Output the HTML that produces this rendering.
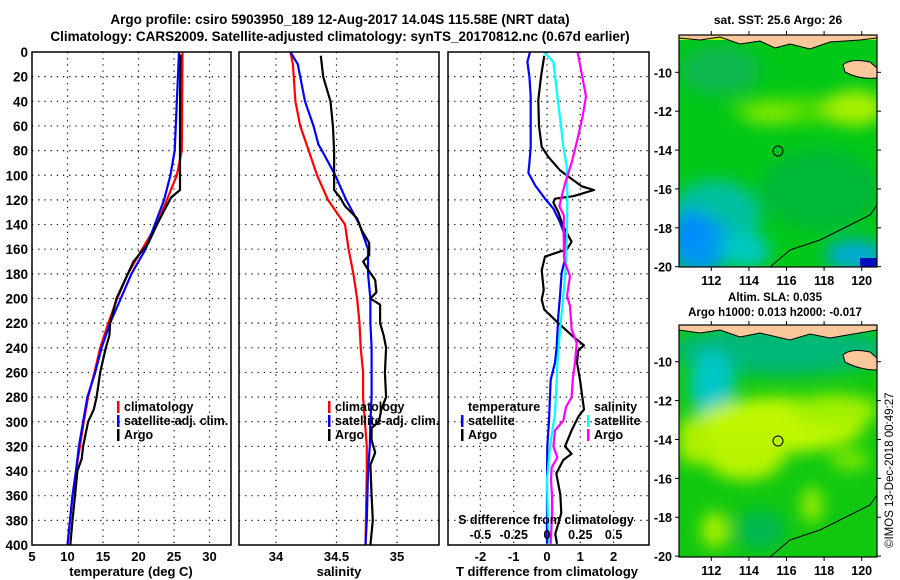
<!DOCTYPE html>
<html><head><meta charset="utf-8">
<style>
html,body{margin:0;padding:0;background:#fff;}
svg{display:block;font-family:"Liberation Sans",sans-serif;font-weight:bold;}
</style></head>
<body>
<svg id="chart" width="900" height="580" viewBox="0 0 900 580" xmlns="http://www.w3.org/2000/svg">
<defs>
<filter id="blur6" x="-50%" y="-50%" width="200%" height="200%"><feGaussianBlur stdDeviation="8"/></filter>
<clipPath id="clipMap1"><rect x="679" y="35" width="198" height="232"/></clipPath>
<clipPath id="clipMap2"><rect x="679" y="325" width="198" height="232"/></clipPath>
</defs>
<g font-size="13.5" text-anchor="middle">
<text x="340" y="24">Argo profile: csiro 5903950_189 12-Aug-2017 14.04S 115.58E (NRT data)</text>
<text x="340" y="41">Climatology: CARS2009. Satellite-adjusted climatology: synTS_20170812.nc (0.67d earlier)</text>
</g>
<g id="panels"></g>

<!-- Map 1: satellite SST -->
<g>
<text x="778" y="24" font-size="12" text-anchor="middle">sat. SST: 25.6 Argo: 26</text>
<g clip-path="url(#clipMap1)">
<rect x="679" y="35" width="198" height="232" fill="#00c818"/>
<g filter="url(#blur6)">
<ellipse cx="720" cy="70" rx="40" ry="25" fill="#10b850"/>
<ellipse cx="800" cy="110" rx="70" ry="14" fill="#50dc00"/>
<ellipse cx="855" cy="108" rx="30" ry="18" fill="#a8f000"/>
<ellipse cx="770" cy="115" rx="25" ry="10" fill="#80e800"/>
<ellipse cx="820" cy="190" rx="60" ry="40" fill="#00b838"/>
<ellipse cx="715" cy="215" rx="45" ry="35" fill="#00c0a0"/>
<ellipse cx="700" cy="245" rx="30" ry="30" fill="#0098f0"/>
<ellipse cx="745" cy="250" rx="25" ry="18" fill="#00c8c0"/>
<ellipse cx="855" cy="255" rx="30" ry="15" fill="#00a8d8"/>
<ellipse cx="690" cy="230" rx="14" ry="20" fill="#0088ff"/>
</g>
<rect x="679" y="35" width="198" height="5" fill="#c0f000"/>
<path d="M679,38 L700,40 L720,37 L740,44 L760,41 L775,48 L790,44 L810,49 L830,42 L860,40 L877,38 L877,35 L679,35Z" fill="#f8c89c" stroke="#000" stroke-width="1"/>
<path d="M843,65 Q850,58 870,62 L877,68 L877,78 Q860,80 845,72Z" fill="#f8c89c" stroke="#000" stroke-width="1"/>
<path d="M770,267 L790,250 L820,240 L850,225 L870,215 L877,205" fill="none" stroke="#000" stroke-width="1"/>
<rect x="860" y="258" width="17" height="9" fill="#0010c0"/>
<circle cx="778" cy="151" r="5" fill="none" stroke="#000" stroke-width="1"/>
</g>
<rect x="679" y="35" width="198" height="232" fill="none" stroke="#000" stroke-width="1.2"/>
</g>

<!-- Map 2: altimetry SLA -->
<g>
<text x="775" y="301" font-size="11.5" text-anchor="middle">Altim. SLA: 0.035</text>
<text x="775" y="316" font-size="11.5" text-anchor="middle">Argo h1000: 0.013 h2000: -0.017</text>
<g clip-path="url(#clipMap2)">
<rect x="679" y="325" width="198" height="232" fill="#10c810"/>
<g filter="url(#blur6)">
<ellipse cx="780" cy="350" rx="110" ry="25" fill="#00b878"/>
<ellipse cx="712" cy="385" rx="22" ry="35" fill="#00c8c8"/>
<ellipse cx="780" cy="425" rx="85" ry="28" fill="#c0f800"/>
<ellipse cx="745" cy="455" rx="40" ry="25" fill="#b8f400"/>
<ellipse cx="835" cy="410" rx="45" ry="16" fill="#a0f000"/>
<ellipse cx="695" cy="440" rx="18" ry="25" fill="#b0f000"/>
<ellipse cx="715" cy="530" rx="14" ry="18" fill="#a8f000"/>
<ellipse cx="812" cy="505" rx="10" ry="18" fill="#a0f000"/>
<ellipse cx="850" cy="460" rx="20" ry="10" fill="#80e800"/>
<ellipse cx="760" cy="530" rx="25" ry="20" fill="#00b850"/>
</g>
<path d="M679,330 L700,333 L720,330 L740,337 L760,333 L790,340 L810,334 L830,338 L877,330 L877,325 L679,325Z" fill="#f8c89c" stroke="#000" stroke-width="1"/>
<path d="M843,355 Q850,348 870,352 L877,358 L877,370 Q860,370 845,362Z" fill="#f8c89c" stroke="#000" stroke-width="1"/>
<path d="M770,557 L790,540 L820,530 L850,515 L870,505 L877,495" fill="none" stroke="#000" stroke-width="1"/>
<circle cx="778" cy="441" r="5" fill="none" stroke="#000" stroke-width="1"/>
</g>
<rect x="679" y="325" width="198" height="232" fill="none" stroke="#000" stroke-width="1.2"/>
</g>
<g id="mapaxes"></g>
<text transform="translate(893,548) rotate(-90)" font-size="11.5" font-weight="normal">©IMOS 13-Dec-2018 00:49:27</text>
</svg>
<script>
// ---------- data ----------
const depthTicks = [0,20,40,60,80,100,120,140,160,180,200,220,240,260,280,300,320,340,360,380,400];
const tempTicks = [5,10,15,20,25,30];
const salTicks = [34,34.5,35];
const salTickLabels = ["34","34.5","35"];
const tdiffTicks = [-2,-1,0,1,2];
const sdiffTicks = [-0.5,-0.25,0,0.25,0.5];
const sdiffTickLabels = ["-0.5","-0.25","0","0.25","0.5"];

const tClimDepth = [0,80,100,120,140,160,180,200,220,240,260,280,300,320,340,360,380,400];
const tClimVal   = [26.2,26.1,25.4,24.0,22.6,20.5,18.5,17.0,15.75,14.6,13.8,12.9,12.3,11.75,11.2,10.7,10.35,10.0];
const tSatDepth = [0,80,100,120,140,160,180,200,220,240,260,280,300,320,340,360,380,400];
const tSatVal   = [25.7,25.1,24.5,23.6,22.3,21.0,19.0,17.5,16.0,14.8,13.9,12.8,12.2,11.6,11.2,10.7,10.35,10.0];
const tArgoDepth = [2,50,112,118,130,140,155,165,170,180,200,220,230,240,260,280,290,300,320,330,340,360,380,400];
const tArgoVal   = [25.9,25.85,25.85,24.6,23.5,22.6,21.4,20.0,19.3,18.5,16.9,16.0,15.9,15.4,14.6,14.1,13.7,12.9,12.2,12.0,11.4,11.05,10.7,10.4];

const sClimDepth = [0,10,40,60,80,100,120,130,140,160,180,200,220,240,260,280,300,320,340,400];
const sClimVal   = [34.12,34.14,34.16,34.2,34.27,34.34,34.43,34.5,34.57,34.6,34.64,34.67,34.69,34.7,34.72,34.72,34.735,34.75,34.75,34.74];
const sSatDepth = [0,10,20,40,60,75,80,100,120,140,160,180,200,220,240,280,300,320,340,380,400];
const sSatVal   = [34.12,34.18,34.2,34.24,34.31,34.35,34.38,34.49,34.58,34.69,34.76,34.76,34.78,34.78,34.79,34.79,34.78,34.775,34.76,34.75,34.74];
const sArgoDepth = [3,20,30,40,60,80,112,118,125,135,145,155,165,170,175,185,195,200,205,220,230,240,260,280,290,300,305,315,325,335,360,380,400];
const sArgoVal   = [34.37,34.39,34.42,34.45,34.47,34.48,34.48,34.53,34.57,34.67,34.71,34.77,34.77,34.72,34.75,34.82,34.83,34.78,34.86,34.86,34.89,34.91,34.9,34.91,34.87,34.85,34.79,34.79,34.82,34.78,34.79,34.8,34.78];

const dtSatDepth = [0,8,20,36,58,77,90,98,108,119,127,138,149,168,179,198,214,239,252,266,299,320,347,374,399];
const dtSatVal   = [-0.51,-0.59,-0.53,-0.49,-0.49,-0.49,-0.53,-0.56,-0.36,-0.06,0.19,0.39,0.54,0.54,0.44,0.39,0.34,0.29,0.24,0.11,0.06,0.01,0.0,0.0,0.0];
const dtArgoDepth = [3,20,39,60,77,85,96,101,109,112,117,119,122,130,141,154,160,166,177,193,201,209,220,231,238,242,252,266,290,296,307,320,326,331,342,359,374,391,399];
const dtArgoVal   = [-0.08,-0.18,-0.26,-0.24,-0.16,0.04,0.39,0.64,1.04,1.41,0.79,0.24,0.19,0.34,0.48,0.74,0.6,-0.06,-0.16,-0.1,-0.16,-0.08,0.34,0.79,1.11,0.94,0.9,0.99,1.11,0.94,0.74,0.54,0.74,0.49,0.28,0.4,0.43,0.25,0.3];
const dsSatDepth = [0,8,36,58,77,93,117,144,171,198,225,252,266,293,320,347,374,399];
const dsSatVal   = [-0.023,0.048,0.078,0.103,0.123,0.148,0.153,0.15,0.143,0.123,0.098,0.078,0.073,0.06,0.023,0.0,0.005,0.018];
const dsArgoDepth = [0,17,36,52,71,90,104,114,125,133,144,166,171,182,198,206,225,236,252,266,280,288,299,307,320,329,337,347,361,374,399];
const dsArgoVal   = [0.23,0.26,0.293,0.268,0.228,0.185,0.143,0.118,0.093,0.128,0.125,0.128,0.135,0.173,0.15,0.173,0.185,0.223,0.21,0.193,0.185,0.143,0.123,0.06,0.048,0.078,0.035,0.03,0.038,0.038,0.028];

const lonTicks = [112,114,116,118,120];
const latTicks = [-10,-12,-14,-16,-18,-20];

// ---------- axes ----------
const NS = 'http://www.w3.org/2000/svg';
const Y0 = 52, YS = 1.2325;
const yD = d => Y0 + d*YS;
const xT = t => 32 + (t-5)*7.1;
const xS = s => 276 + (s-34)*121;
const xDT = t => 547 + t*33.3;
const xDS = s => 547 + s*4*33.3;
const panels = document.getElementById('panels');
function mk(tag, attrs, parent){ const e=document.createElementNS(NS,tag); for(const k in attrs) e.setAttribute(k,attrs[k]); (parent||panels).appendChild(e); return e; }
function txt(x,y,s,size,anchor,parent){ const e=mk('text',{x:x,y:y,'font-size':size,'text-anchor':anchor||'middle'},parent); e.textContent=s; return e; }

const P = [{x0:32,x1:231,name:'temperature-panel'},{x0:239,x1:439,name:'salinity-panel'},{x0:448,x1:649,name:'difference-panel'}];
const yTop = yD(0), yBot = yD(400);
P.forEach((p,i)=>{
  const g = mk('g',{});
  
  
  p.g = g;
  depthTicks.forEach(d=>{ if(d>0 && d<400){ const l=mk('line',{x1:p.x0,x2:p.x1,y1:yD(d),y2:yD(d),stroke:'#000','stroke-width':1.2,'stroke-dasharray':'1.2 5'},g);
      }});
});
function vgrid(p, xs){ xs.forEach(x=>{ const l=mk('line',{x1:x,x2:x,y1:yTop,y2:yBot,stroke:'#000','stroke-width':1.2,'stroke-dasharray':'1.2 5'},p.g);
    }); }
vgrid(P[0], tempTicks.filter(t=>t>5).map(xT));
vgrid(P[1], salTicks.map(xS));
vgrid(P[2], tdiffTicks.map(xDT));

// depth labels
const dl = mk('g',{'font-size':13,'text-anchor':'end'});


depthTicks.forEach(d=>{ txt(28, yD(d)+5, String(d), 13.5, 'end', dl); });

function line(p, xs, ds, col, w, name){
  const pts = ds.map((d,k)=>xs[k].toFixed(1)+','+yD(d).toFixed(1)).join(' ');
  const e = mk('polyline',{points:pts,fill:'none',stroke:col,'stroke-width':w,'stroke-linejoin':'round'},p.g);
  
  
}
line(P[0], tClimVal.map(xT), tClimDepth, '#ff0000', 2.2, 'temperature-climatology-line');
line(P[0], tSatVal.map(xT), tSatDepth, '#0000ff', 2.2, 'temperature-satellite-line');
line(P[0], tArgoVal.map(xT), tArgoDepth, '#000', 2.2, 'temperature-argo-line');
line(P[1], sClimVal.map(xS), sClimDepth, '#ff0000', 2.2, 'salinity-climatology-line');
line(P[1], sSatVal.map(xS), sSatDepth, '#0000ff', 2.2, 'salinity-satellite-line');
line(P[1], sArgoVal.map(xS), sArgoDepth, '#000', 2.2, 'salinity-argo-line');
line(P[2], dtSatVal.map(xDT), dtSatDepth, '#0000ff', 2.2, 'tdiff-satellite-line');
line(P[2], dtArgoVal.map(xDT), dtArgoDepth, '#000', 2.2, 'tdiff-argo-line');
line(P[2], dsSatVal.map(xDS), dsSatDepth, '#00ffff', 2.2, 'sdiff-satellite-line');
line(P[2], dsArgoVal.map(xDS), dsArgoDepth, '#ff00ff', 2.2, 'sdiff-argo-line');

P.forEach(p=>{ const r=mk('rect',{x:p.x0,y:yTop,width:p.x1-p.x0,height:yBot-yTop,fill:'none',stroke:'#000','stroke-width':1.5},p.g);
    });

// x tick labels
tempTicks.forEach(t=>{ const e=txt(xT(t), 561, String(t), 13);   });
salTicks.forEach((s,k)=>{ const e=txt(xS(s), 561, salTickLabels[k], 13);   });
tdiffTicks.forEach(t=>{ const e=txt(xDT(t), 561, String(t), 13);   });
sdiffTicks.forEach((s,k)=>{ const e=txt(xDS(s), 539, sdiffTickLabels[k], 12.5);   });
let e;
e=txt(131,576,'temperature (deg C)',13);  
e=txt(339,576,'salinity',13);  
e=txt(547,576,'T difference from climatology',13);  
e=txt(546,524,'S difference from climatology',12.5);  

// legends
function legend(x, y, col, label, name){
  const g = mk('g',{});
  
  
  mk('rect',{x:x,y:y-10,width:2.5,height:12,fill:col},g);
  txt(x+7, y, label, 12.5, 'start', g);
}
legend(117,411,'#ff0000','climatology','legend-entry-climatology');
legend(117,425,'#0000ff','satellite-adj. clim.','legend-entry-satellite-adj');
legend(117,439,'#000','Argo','legend-entry-argo');
legend(328,411,'#ff0000','climatology','legend-entry-climatology-sal');
legend(328,425,'#0000ff','satellite-adj. clim.','legend-entry-satellite-adj-sal');
legend(328,439,'#000','Argo','legend-entry-argo-sal');
e=txt(468,411,'temperature',12.5,'start');  
legend(461,425,'#0000ff','satellite','legend-entry-tdiff-satellite');
legend(461,439,'#000','Argo','legend-entry-tdiff-argo');
e=txt(594,411,'salinity',12.5,'start');  
legend(587,425,'#00ffff','satellite','legend-entry-sdiff-satellite');
legend(587,439,'#ff00ff','Argo','legend-entry-sdiff-argo');

// map axes
const ma = document.getElementById('mapaxes');
const xLon = l => 711.3 + (l-112)*18.8;
const maps = [{top:35, bot:267, lat10:72.3}, {top:325, bot:557, lat10:361.7}];
maps.forEach((m,i)=>{
  const yLat = la => m.lat10 + (-10-la)*19.44;
  lonTicks.forEach(l=>{
    mk('line',{x1:xLon(l),x2:xLon(l),y1:m.top-4,y2:m.top,stroke:'#000','stroke-width':1},ma);
    mk('line',{x1:xLon(l),x2:xLon(l),y1:m.bot,y2:m.bot+4,stroke:'#000','stroke-width':1},ma);
    const t=txt(xLon(l), m.bot+18, String(l), 12.5, 'middle', ma);
     
  });
  latTicks.forEach(la=>{
    mk('line',{x1:675,x2:679,y1:yLat(la),y2:yLat(la),stroke:'#000','stroke-width':1},ma);
    mk('line',{x1:877,x2:881,y1:yLat(la),y2:yLat(la),stroke:'#000','stroke-width':1},ma);
    const t=txt(672, yLat(la)+5, String(la), 12.5, 'end', ma);
     
  });
});
</script>
</body></html>
